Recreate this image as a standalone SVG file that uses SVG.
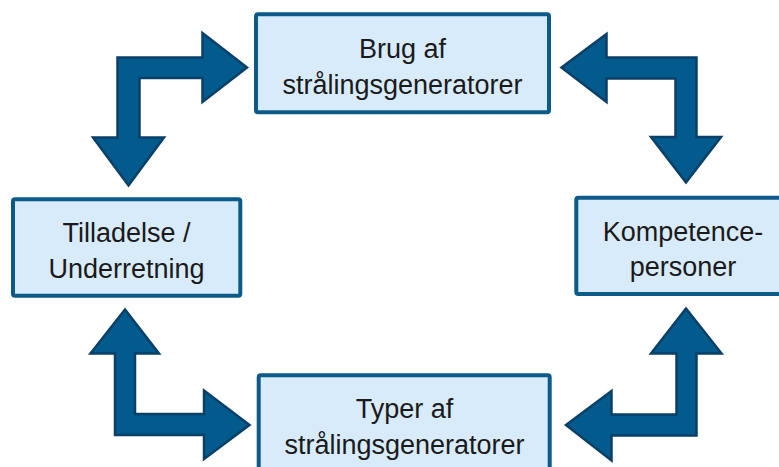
<svg xmlns="http://www.w3.org/2000/svg" width="779" height="467" viewBox="0 0 779 467">
<style>
.box{fill:#d8ebfb;stroke:#0b5a8a;stroke-width:4}
.arr{fill:#035b8d;stroke:#0a4068;stroke-width:2.5;stroke-linejoin:miter}
text{font-family:"Liberation Sans",Arial,sans-serif;font-size:27px;fill:#1a1a1a;text-anchor:middle}
</style>
<rect width="779" height="467" fill="#ffffff"/>
<g id="connectors">
<path class="arr" d="M247,67.5 L202.5,102 L202.5,78 L139.5,78 L139.5,137.5 L164,137.5 L128.5,185.5 L93,137.5 L117.5,137.5 L117.5,57.5 L202.5,57.5 L202.5,33 Z"/>
<path class="arr" d="M561.5,67.5 L606.5,34 L606.5,57.5 L696.5,57.5 L696.5,137 L721,137 L686,182.5 L651,137 L675.5,137 L675.5,78.5 L606.5,78.5 L606.5,102 Z"/>
<path class="arr" d="M125,309.5 L159,353.5 L135,353.5 L135,414 L204,414 L204,390.5 L249.5,425 L204,459 L204,435 L115,435 L115,353.5 L90.5,353.5 Z"/>
<path class="arr" d="M686,308.5 L721.5,353.5 L696.5,353.5 L696.5,435.5 L611.5,435.5 L611.5,460.5 L566,425 L611.5,391 L611.5,414.5 L676.5,414.5 L676.5,353.5 L651,353.5 Z"/>
</g>
<g id="node-brug">
<rect class="box" x="256" y="14.3" width="293" height="98" rx="2"/>
<text x="402.5" y="57.5">Brug af</text>
<text x="402.5" y="94">strålingsgeneratorer</text>
</g>
<g id="node-tilladelse">
<rect class="box" x="13" y="199.3" width="227.3" height="96.4" rx="2"/>
<text x="126.5" y="242">Tilladelse /</text>
<text x="126.5" y="277.5">Underretning</text>
</g>
<g id="node-kompetence">
<rect class="box" x="576.3" y="197.7" width="230" height="96.3" rx="2"/>
<text x="683" y="240.5">Kompetence-</text>
<text x="683" y="276">personer</text>
</g>
<g id="node-typer">
<rect class="box" x="258.7" y="375.3" width="291" height="100" rx="2"/>
<text x="404.5" y="418">Typer af</text>
<text x="404.5" y="454">strålingsgeneratorer</text>
</g>
</svg>
